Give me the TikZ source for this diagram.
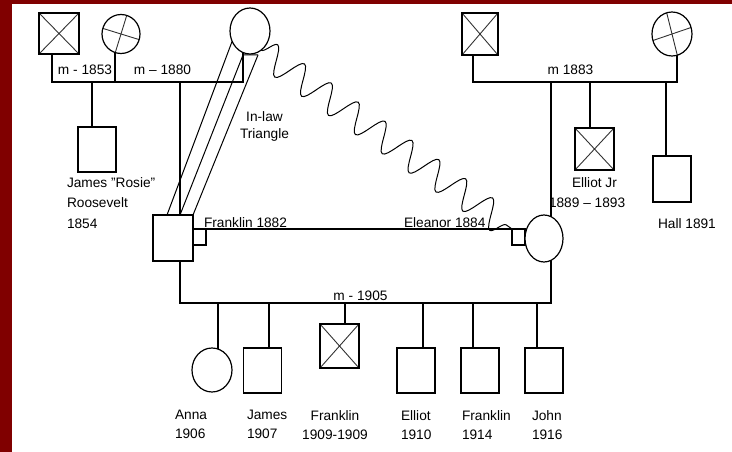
\documentclass[tikz,border=0pt]{standalone}
\usepackage{fontspec}
\setmainfont{Liberation Sans}
\usetikzlibrary{shapes.geometric,decorations.pathmorphing,backgrounds}
\definecolor{bgred}{RGB}{128,0,0}
\begin{document}
\begin{tikzpicture}[x=1pt,y=-1pt,
  person/.style={draw,line width=1.2pt,fill=white,inner sep=0pt,outer sep=0pt},
  male/.style={person,rectangle},
  female/.style={person,ellipse},
  kid/.style={male,minimum width=38pt,minimum height=45pt},
  crossline/.style={line width=0.9pt,black!80},
  deadm/.style={path picture={\draw[crossline]
     (path picture bounding box.north west) -- (path picture bounding box.south east)
     (path picture bounding box.north east) -- (path picture bounding box.south west);}},
  deadf/.style={path picture={\draw[crossline]
     ([shift={(-22pt,6.8pt)}]path picture bounding box.center) -- ([shift={(22pt,-6.8pt)}]path picture bounding box.center)
     ([shift={(6.8pt,22pt)}]path picture bounding box.center) -- ([shift={(-6.8pt,-22pt)}]path picture bounding box.center);}},
  deadg/.style={path picture={\draw[crossline]
     ([shift={(-22pt,-7.5pt)}]path picture bounding box.center) -- ([shift={(22pt,7.5pt)}]path picture bounding box.center)
     ([shift={(-6pt,24pt)}]path picture bounding box.center) -- ([shift={(6pt,-24pt)}]path picture bounding box.center);}},
  link/.style={line width=1.2pt},
  thinlink/.style={line width=1pt},
  lbl/.style={font=\fontsize{13.7}{19}\selectfont,inner sep=0pt,outer sep=0pt},
]
\useasboundingbox (0,0) rectangle (732,452);

% persons
\node[male,deadm,minimum width=40pt,minimum height=41pt] (jroos) at (59,33.5) {};
\node[female,deadf,minimum width=38pt,minimum height=39pt] (rhow) at (121,34) {};
\node[female,minimum width=40pt,minimum height=46pt] (sara) at (250,31) {};
\node[male,minimum width=38pt,minimum height=45pt] (rosie) at (97,149.5) {};
\node[male,minimum width=40pt,minimum height=46pt] (fdr) at (173,238) {};
\node[female,minimum width=38pt,minimum height=47pt] (eleanor) at (544,238.5) {};
\node[male,deadm,minimum width=36pt,minimum height=42pt] (elliot) at (480,34) {};
\node[female,deadg,minimum width=40pt,minimum height=44pt] (ahall) at (672,34) {};
\node[male,deadm,minimum width=39pt,minimum height=42pt] (elliotjr) at (594.5,149) {};
\node[male,minimum width=38pt,minimum height=46pt] (hall) at (672,179) {};
\node[female,minimum width=40pt,minimum height=44pt] (anna) at (212,370) {};
\node[kid] (james) at (262.5,370.5) {};
\node[male,deadm,minimum width=39pt,minimum height=44pt] (fjra) at (339.5,346) {};
\node[kid] (elliott) at (416,370.5) {};
\node[kid] (fjrb) at (480,370.5) {};
\node[kid] (john) at (544,370.5) {};

% junction coordinates
\coordinate (m1L) at (52,82);   \coordinate (m1R) at (243,82);
\coordinate (rhj) at (115,82);  \coordinate (rosj) at (92,82);
\coordinate (fdrj) at (180,82);
\coordinate (m3L) at (473,82);  \coordinate (m3R) at (677,82);
\coordinate (elj) at (551,82);  \coordinate (ejj) at (590,82);
\coordinate (hallj) at (666,82);
\coordinate (m4L) at (180,303); \coordinate (m4R) at (551,303);
\coordinate (cj1) at (218,303); \coordinate (cj2) at (269,303);
\coordinate (cj3) at (345,303); \coordinate (cj4) at (423,303);
\coordinate (cj5) at (473,303); \coordinate (cj6) at (537,303);
\coordinate (mf) at (fdr.north east |- 0,229);
\coordinate (me) at (512,229);
\coordinate (tria) at (243,55); \coordinate (trib) at (258,55);

% labels
\node[lbl,anchor=base] at (85,75) {m - 1853};
\node[lbl,anchor=base] at (162.5,75) {m – 1880};
\node[lbl,anchor=base] at (570.5,75) {m 1883};
\node[lbl,anchor=base] at (360.5,300) {m - 1905};
\node[lbl,anchor=base west] at (204,227) {Franklin 1882};
\node[lbl,anchor=base west] at (404,227) {Eleanor 1884};
\node[lbl,align=center,anchor=north,font=\fontsize{13.7}{16.5}\selectfont] at (264.5,111.8) {In-law\\Triangle};
\node[lbl,align=left,anchor=north west,font=\fontsize{13.7}{20.5}\selectfont] at (67,177.3) {James "Rosie"\\Roosevelt\\1854};
\node[lbl,anchor=base west] at (572,187) {Elliot Jr};
\node[lbl,anchor=base west] at (549,207) {1889 – 1893};
\node[lbl,anchor=base west] at (658,228) {Hall 1891};
\node[lbl,align=left,anchor=north west] at (175,410.3) {Anna\\1906};
\node[lbl,align=left,anchor=north west] at (247,410.3) {James\\1907};
\node[lbl,align=center,anchor=north] at (335,410.3) {Franklin\\1909-1909};
\node[lbl,align=left,anchor=north west] at (401,410.3) {Elliot\\1910};
\node[lbl,align=left,anchor=north west] at (462,410.3) {Franklin\\1914};
\node[lbl,align=left,anchor=north west] at (532,410.3) {John\\1916};

\begin{scope}[on background layer]
  \fill[bgred] (0,0) rectangle (732,452);
  \fill[white] (12,4) rectangle (732,452);
  % Roosevelt parents
  \draw[link] (m1L |- jroos) -- (m1L) -- (m1R) -- (m1R |- sara);
  \draw[link] (rhj) -- (rhj |- rhow);
  \draw[link] (rosj) -- (rosj |- rosie);
  \draw[link] (fdrj) -- (fdrj |- fdr);
  % Hall parents
  \draw[link] (m3L |- elliot) -- (m3L) -- (m3R) -- (m3R |- ahall);
  \draw[link] (elj) -- (elj |- eleanor);
  \draw[link] (ejj) -- (ejj |- elliotjr);
  \draw[link] (hallj) -- (hallj |- hall);
  % Franklin & Eleanor
  \draw[link] (mf) rectangle ++(13,16);
  \draw[link] (me) rectangle ++(13,16);
  \draw[link] (mf) -- (me);
  \draw[link] (m4L |- fdr) -- (m4L) -- (m4R) -- (m4R |- eleanor);
  \draw[link] (cj1) -- (cj1 |- anna);
  \draw[link] (cj2) -- (cj2 |- james);
  \draw[link] (cj3) -- (cj3 |- fjra);
  \draw[link] (cj4) -- (cj4 |- elliott);
  \draw[link] (cj5) -- (cj5 |- fjrb);
  \draw[link] (cj6) -- (cj6 |- john);
  % in-law triangle
  \draw[thinlink] (sara.210) -- ([xshift=14pt]fdr.north west);
  \draw[thinlink] (trib) -- (tria) -- ([xshift=27pt]fdr.north west);
  \draw[thinlink] (trib) -- (fdr.north east);
  \draw[thinlink,decorate,decoration={snake,amplitude=14pt,segment length=33pt}] (sara.-60) -- (me);
\end{scope}
\end{tikzpicture}
\end{document}
